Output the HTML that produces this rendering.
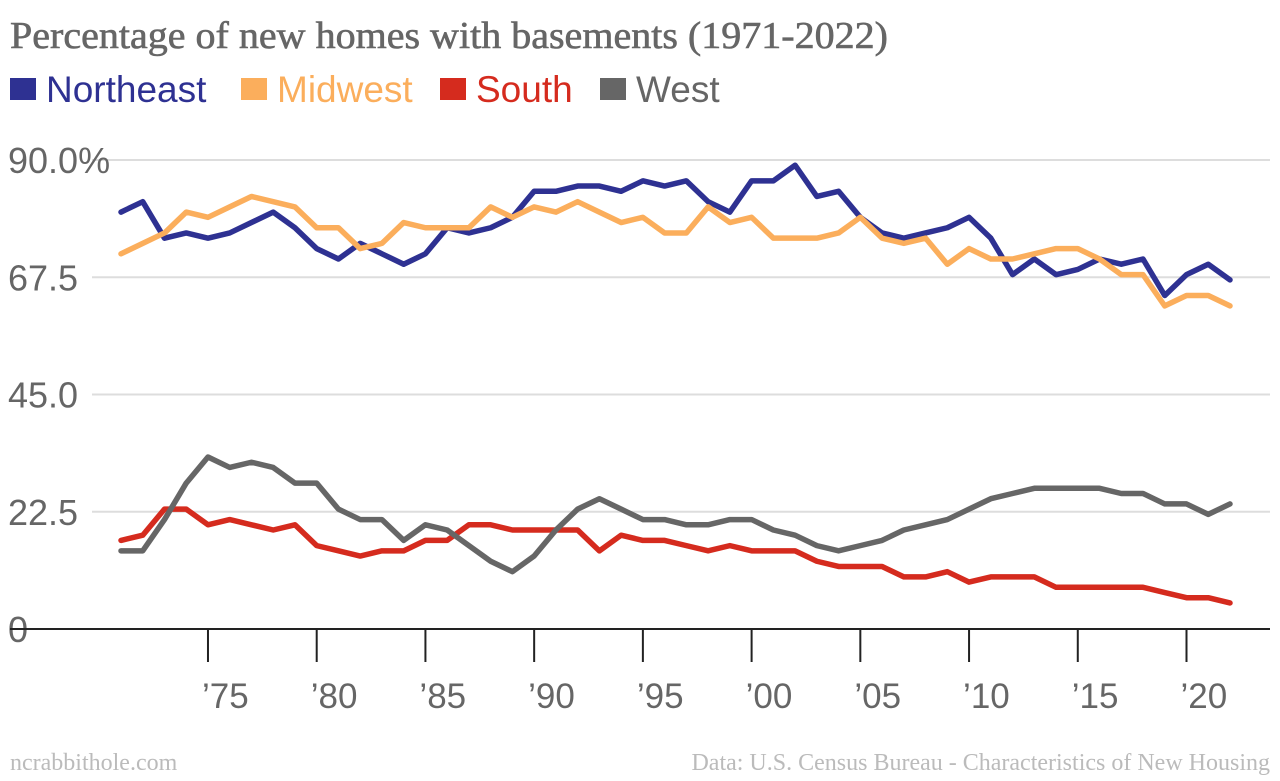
<!DOCTYPE html>
<html><head><meta charset="utf-8"><style>
body{margin:0;background:#fff;width:1280px;height:776px;overflow:hidden}
svg text{font-family:"Liberation Sans",sans-serif}
</style></head><body>
<svg id="c" width="1280" height="776">
<text x="10" y="48" style="font-family:'Liberation Serif',serif" font-size="38" textLength="878" lengthAdjust="spacingAndGlyphs" fill="#666" stroke="#666" stroke-width="0.6">Percentage of new homes with basements (1971-2022)</text>
<g id="legend"></g>
<g id="grid"></g><g id="series"></g><g id="axes"></g>
<text x="10" y="770" style="font-family:'Liberation Serif',serif" font-size="24" fill="#bbb">ncrabbithole.com</text>
<text x="1270" y="770" text-anchor="end" style="font-family:'Liberation Serif',serif" font-size="24" fill="#bbb">Data: U.S. Census Bureau - Characteristics of New Housing</text>
</svg>
<script>
const years=[];for(let y=1971;y<=2022;y++)years.push(y);
const northeast=[80,82,75,76,75,76,78,80,77,73,71,74,72,70,72,77,76,77,79,84,84,85,85,84,86,85,86,82,80,86,86,89,83,84,79,76,75,76,77,79,75,68,71,68,69,71,70,71,64,68,70,67];
const midwest=[72,74,76,80,79,81,83,82,81,77,77,73,74,78,77,77,77,81,79,81,80,82,80,78,79,76,76,81,78,79,75,75,75,76,79,75,74,75,70,73,71,71,72,73,73,71,68,68,62,64,64,62];
const south=[17,18,23,23,20,21,20,19,20,16,15,14,15,15,17,17,20,20,19,19,19,19,15,18,17,17,16,15,16,15,15,15,13,12,12,12,10,10,11,9,10,10,10,8,8,8,8,8,7,6,6,5];
const west=[15,15,21,28,33,31,32,31,28,28,23,21,21,17,20,19,16,13,11,14,19,23,25,23,21,21,20,20,21,21,19,18,16,15,16,17,19,20,21,23,25,26,27,27,27,27,26,26,24,24,22,24];
const yTicks=[0,22.5,45,67.5,90];
const yTickLabels=["0","22.5","45.0","67.5","90.0%"];
const xTicks=[1975,1980,1985,1990,1995,2000,2005,2010,2015,2020];
const xTickLabels=["’75","’80","’85","’90","’95","’00","’05","’10","’15","’20"];
const names=["Northeast","Midwest","South","West"];
const colors=["#2e3192","#fbae5c","#d52b1e","#666666"];
const NS="http://www.w3.org/2000/svg";
const X=y=>121+(y-1971)*21.745;
const Y=v=>629-v*(469/90);
function mk(t,a,p){const e=document.createElementNS(NS,t);for(const k in a)e.setAttribute(k,a[k]);p.appendChild(e);return e;}
const grid=document.getElementById('grid'),axes=document.getElementById('axes'),ser=document.getElementById('series'),leg=document.getElementById('legend');
yTicks.forEach((v,i)=>{
  if(v!==0){const l=mk('line',{x1:92,x2:1270,y1:Y(v),y2:Y(v),stroke:'#ddd','stroke-width':2},grid);
  
  }
  const t=mk('text',{x:8,y:Y(v)+13,'font-size':36,fill:'#666'},axes);t.textContent=yTickLabels[i];
  
  
});
const z=mk('line',{x1:10,x2:1270,y1:Y(0),y2:Y(0),stroke:'#222','stroke-width':2},axes);


xTicks.forEach((yr,i)=>{
  const l=mk('line',{x1:X(yr),x2:X(yr),y1:Y(0),y2:Y(0)+33,stroke:'#222','stroke-width':2},axes);
  
  
  const t=mk('text',{x:X(yr)-6,y:708,'font-size':35,fill:'#666'},axes);t.textContent=xTickLabels[i];
  
  
});
[northeast,midwest,south,west].forEach((d,s)=>{
  const p=mk('polyline',{points:d.map((v,i)=>X(years[i])+','+Y(v)).join(' '),fill:'none',stroke:colors[s],'stroke-width':5.5,'stroke-linejoin':'round','stroke-linecap':'round'},ser);
  
  
});
const lx=[10,241,440,600];
names.forEach((n,i)=>{
  const g=mk('g',{},leg);
  
  
  mk('rect',{x:lx[i],y:78,width:26,height:22,fill:colors[i]},g);
  const t=mk('text',{x:lx[i]+36,y:102,'font-size':37,fill:colors[i]},g);t.textContent=n;
});
</script>
</body></html>
